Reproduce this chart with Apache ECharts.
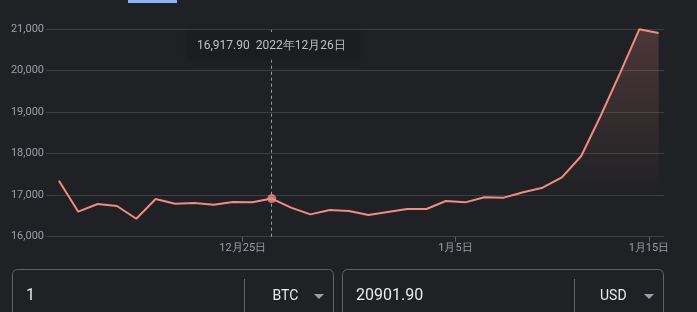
<!DOCTYPE html>
<html>
<head>
<meta charset="utf-8">
<script src="https://cdn.jsdelivr.net/npm/echarts@6/dist/echarts.min.js"></script>
<style>
html,body{margin:0;padding:0;background:#202124;}
#chart{width:697px;height:312px;}
</style>
</head>
<body>
<div id="chart"></div>
<script>
const dates = ['2022-12-15','2022-12-16','2022-12-17','2022-12-18','2022-12-19','2022-12-20','2022-12-21','2022-12-22',
  '2022-12-23','2022-12-24','2022-12-25','2022-12-26','2022-12-27','2022-12-28','2022-12-29','2022-12-30',
  '2022-12-31','2023-01-01','2023-01-02','2023-01-03','2023-01-04','2023-01-05','2023-01-06','2023-01-07',
  '2023-01-08','2023-01-09','2023-01-10','2023-01-11','2023-01-12','2023-01-13','2023-01-14','2023-01-15'];
const prices = [17348,16602,16787,16739,16433,16908,16795,16811,
  16770,16835,16829,16917.90,16699,16538,16643,16619,
  16522,16595,16667,16667,16859,16827,16948,16940,
  17068,17180,17430,17943,18906,19933,20993,20901.90];
const highlightDate = '2022-12-26';
const tickDates = ['2022-12-25','2023-01-05','2023-01-15'];
const tickLabels = ['12月25日','1月5日','1月15日'];
const yMin = 16000, yMax = 21000, yStep = 1000;
const fromAmount = '1', fromCurrency = 'BTC';
const toAmount = '20901.90', toCurrency = 'USD';

function dayNum(s){
  const p = s.split('-').map(Number);
  const b = dates[0].split('-').map(Number);
  return (Date.UTC(p[0],p[1]-1,p[2]) - Date.UTC(b[0],b[1]-1,b[2]))/86400000;
}
const pointOffset = 0.5; // points sit at midday
const seriesData = dates.map((d,i)=>[dayNum(d)+pointOffset, prices[i]]);
const hi = dates.indexOf(highlightDate);
const hx = dayNum(highlightDate)+pointOffset;
const tickDays = tickDates.map(dayNum);
function cjkDate(s){const p=s.split('-').map(Number);return p[0]+'年'+p[1]+'月'+p[2]+'日';}
const tipText = prices[hi].toLocaleString('en-US',{minimumFractionDigits:2,maximumFractionDigits:2}) + '  ' + cjkDate(highlightDate);

const chart = echarts.init(document.getElementById('chart'));
const font = 'Roboto, Arial, sans-serif';
chart.setOption({
  backgroundColor:'#202124',
  animation:false,
  grid:{left:46,right:33,top:29,bottom:75.3},
  xAxis:{
    type:'value',
    min: dayNum(dates[0]) + pointOffset - 0.668,
    max: dayNum(dates[dates.length-1]) + pointOffset + 0.278,
    axisLine:{show:false},
    splitLine:{show:false},
    axisTick:{show:true,customValues:tickDays,length:5,lineStyle:{color:'#5f6368'}},
    axisLabel:{customValues:tickDays,color:'#9aa0a6',fontSize:11,fontFamily:font,margin:6,
      formatter:(v)=>{const i=tickDays.indexOf(v);return i>=0?tickLabels[i]:'';}}
  },
  yAxis:{
    type:'value',min:yMin,max:yMax,interval:yStep,
    axisLine:{show:false},axisTick:{show:false},
    splitLine:{lineStyle:{color:'#3c4043',width:1}},
    axisLabel:{color:'#9aa0a6',fontSize:11,fontFamily:font,margin:2,
      formatter:(v)=>v.toLocaleString('en-US')}
  },
  series:[{
    type:'line',
    data:seriesData,
    showSymbol:false,
    lineStyle:{color:'#f28b82',width:2},
    itemStyle:{color:'#f28b82'},
    areaStyle:{origin:'start',color:new echarts.graphic.LinearGradient(0,0,0,1,[
      {offset:0,color:'rgba(242,139,130,0.3)'},
      {offset:0.8,color:'rgba(242,139,130,0)'}])},
    markLine:{silent:true,symbol:'none',label:{show:false},
      lineStyle:{color:'#9aa0a6',width:1,type:[3,3]},
      data:[{xAxis:hx}]},
    z:2
  },{
    type:'scatter',
    data:[[hx,prices[hi]]],
    symbolSize:9,
    itemStyle:{color:'#f28b82'},
    z:3
  }]
});

const pt = chart.convertToPixel({gridIndex:0},[hx,prices[hi]]);
const tipW = 171, tipH = 27;
const tipX = Math.round(pt[0]-tipW/2+2);
chart.setOption({
  graphic:[
    {type:'rect',z:100,shape:{x:128,y:0,width:49,height:3},style:{fill:'#8ab4f8'}},
    {type:'rect',z:100,shape:{x:tipX,y:32,width:tipW,height:tipH},
      style:{fill:'#1c1d1f',shadowBlur:6,shadowColor:'rgba(0,0,0,0.25)'}},
    {type:'text',z:101,x:tipX+9,y:32+tipH/2,style:{text:tipText,fill:'#bdc1c6',font:'12px '+font,verticalAlign:'middle'}},
    // input boxes
    {type:'rect',z:100,shape:{x:12.5,y:269.5,width:321,height:60,r:5},style:{fill:'none',stroke:'#5f6368',lineWidth:1}},
    {type:'line',z:100,shape:{x1:244.5,y1:279,x2:244.5,y2:312},style:{stroke:'#5f6368',lineWidth:1}},
    {type:'text',z:101,x:26,y:296,style:{text:fromAmount,fill:'#e8eaed',font:'16px '+font,verticalAlign:'middle'}},
    {type:'text',z:101,x:272.5,y:296,style:{text:fromCurrency,fill:'#e8eaed',font:'14px '+font,verticalAlign:'middle'}},
    {type:'polygon',z:101,shape:{points:[[314,294],[324,294],[319,299]]},style:{fill:'#9aa0a6'}},
    {type:'rect',z:100,shape:{x:342.5,y:269.5,width:321,height:60,r:5},style:{fill:'none',stroke:'#5f6368',lineWidth:1}},
    {type:'line',z:100,shape:{x1:574.5,y1:279,x2:574.5,y2:312},style:{stroke:'#5f6368',lineWidth:1}},
    {type:'text',z:101,x:356,y:296,style:{text:toAmount,fill:'#e8eaed',font:'16px '+font,verticalAlign:'middle'}},
    {type:'text',z:101,x:600,y:296,style:{text:toCurrency,fill:'#e8eaed',font:'14px '+font,verticalAlign:'middle'}},
    {type:'polygon',z:101,shape:{points:[[644,294],[654,294],[649,299]]},style:{fill:'#9aa0a6'}}
  ]
});
</script>
</body>
</html>
